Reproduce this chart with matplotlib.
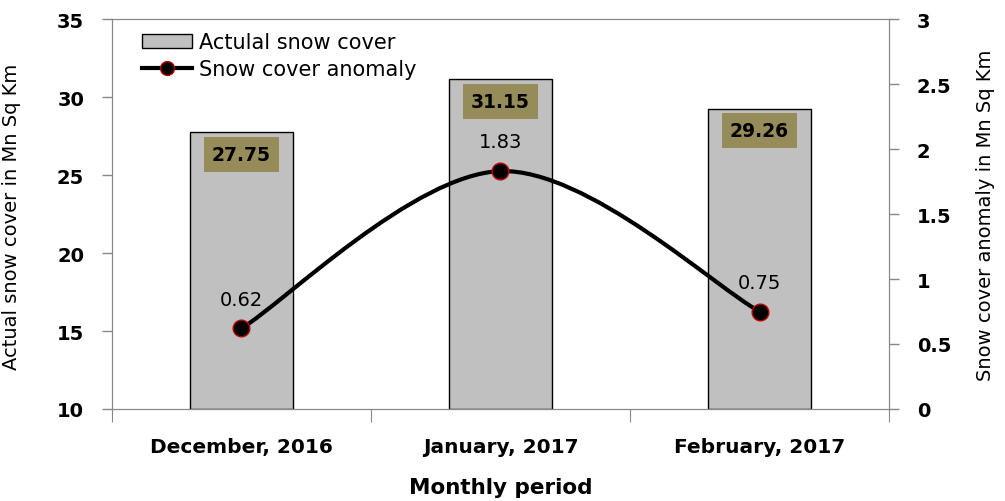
import numpy as np
import matplotlib
matplotlib.use('Agg')
import matplotlib.pyplot as plt
from matplotlib.path import Path
from matplotlib.patches import PathPatch, Patch
from matplotlib.lines import Line2D
from matplotlib.ticker import FuncFormatter

months = ['December, 2016', 'January, 2017', 'February, 2017']
snow_cover = [27.75, 31.15, 29.26]
anomaly = [0.62, 1.83, 0.75]

fig = plt.figure(figsize=(10.05, 5.02), dpi=100)
ax = fig.add_axes([0.1114, 0.1833, 0.7732, 0.7767])
ax2 = ax.twinx()

x = np.arange(len(months))
ax.bar(x, [v - 10 for v in snow_cover], bottom=10, width=0.4,
       color='#c0c0c0', edgecolor='black', linewidth=1, zorder=2)
ax.set_xlim(-0.5, 2.5)
ax.set_ylim(10, 35)
ax.set_yticks([10, 15, 20, 25, 30, 35])

for xi, v in zip(x, snow_cover):
    ax.annotate('%.2f' % v, (xi, v), xytext=(0, -16), textcoords='offset points',
                ha='center', va='center', fontsize=13.5, fontweight='bold',
                bbox=dict(boxstyle='square,pad=0.42', fc='#968c5a', ec='none'), zorder=3)

# smoothed line (Catmull-Rom style bezier like Excel)
pts = np.column_stack([x, anomaly]).astype(float)
n = len(pts)
verts = [pts[0]]
codes = [Path.MOVETO]
for i in range(n - 1):
    p0 = pts[max(i - 1, 0)]
    p1 = pts[i]
    p2 = pts[i + 1]
    p3 = pts[min(i + 2, n - 1)]
    c1 = p1 + (p2 - p0) / 6
    c2 = p2 - (p3 - p1) / 6
    verts += [c1, c2, p2]
    codes += [Path.CURVE4] * 3
ax2.add_patch(PathPatch(Path(verts, codes), fc='none', ec='black', lw=3, zorder=3))
ax2.plot(x, anomaly, 'o', ms=12, mfc='black', mec='#c00000', mew=1, zorder=4)
for xi, v in zip(x, anomaly):
    ax2.annotate('%.2f' % v, (xi, v), xytext=(0, 21), textcoords='offset points',
                 ha='center', va='center', fontsize=14)
ax2.set_ylim(0, 3)
ax2.set_yticks([0, 0.5, 1, 1.5, 2, 2.5, 3])
ax2.yaxis.set_major_formatter(FuncFormatter(lambda v, p: '%g' % v))

# axes styling
for a in (ax, ax2):
    for s in a.spines.values():
        s.set_color('#888888')
    a.tick_params(axis='y', colors='#888888', labelcolor='black', length=7, width=1,
                  pad=13, labelsize=14)
    for lab in a.get_yticklabels():
        lab.set_fontweight('bold')

ax.set_xticks([-0.5, 0.5, 1.5, 2.5])
ax.set_xticklabels([])
ax.set_xticks(x, minor=True)
ax.set_xticklabels(months, minor=True, fontsize=14.5, fontweight='bold')
ax.tick_params(axis='x', which='minor', length=0, pad=20)
ax.tick_params(axis='x', which='major', length=9, color='#888888')

ax.set_ylabel('Actual snow cover in Mn Sq Km', fontsize=14)
ax.yaxis.set_label_coords(-0.117, 0.495)
ax2.set_ylabel('Snow cover anomaly in Mn Sq Km', fontsize=14, rotation=90, va='center')
ax2.yaxis.set_label_coords(1.124, 0.5)
ax.set_xlabel('Monthly period', fontsize=15.5, fontweight='bold')
ax.xaxis.set_label_coords(0.5, -0.175)

handles = [Patch(fc='#c0c0c0', ec='black', lw=1),
           Line2D([], [], color='black', lw=3, marker='o', ms=10, mfc='black', mec='#c00000')]
ax.legend(handles, ['Actulal snow cover', 'Snow cover anomaly'], loc='upper left',
          bbox_to_anchor=(0.023, 0.998), frameon=False, fontsize=15, handlelength=2.4,
          handleheight=0.6, labelspacing=0.32, handletextpad=0.3, borderaxespad=0.2)

fig.savefig('out.png', dpi=100)
